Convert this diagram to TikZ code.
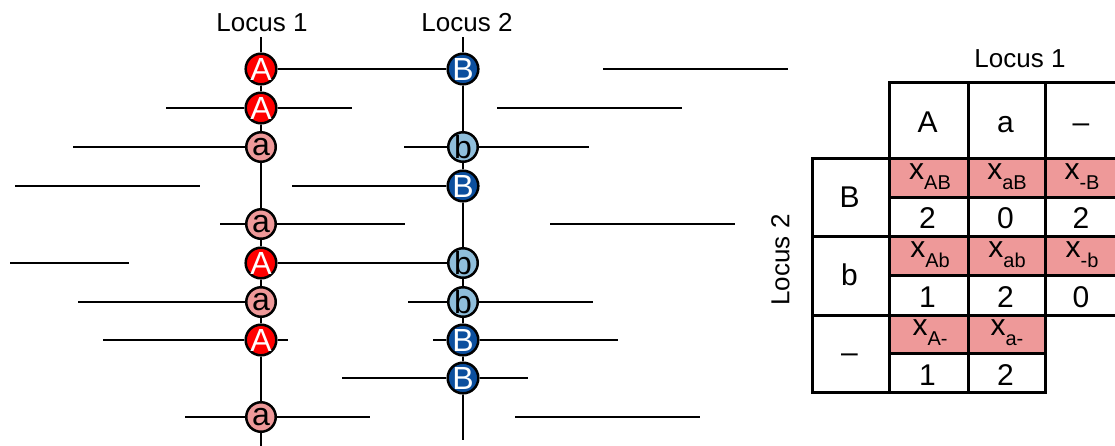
\documentclass[tikz,border=0pt]{standalone}
\usepackage{fontspec}
\setmainfont{Liberation Sans}
\definecolor{alleleA}{HTML}{FF0000}
\definecolor{allelea}{HTML}{EE9999}
\definecolor{alleleB}{HTML}{0C4F9E}
\definecolor{alleleb}{HTML}{8FBEDB}
\definecolor{freqfill}{HTML}{EE9999}
\newcommand\xfreq[1]{x\raisebox{-10pt}{\fontsize{20}{20}\selectfont #1}}
\begin{document}
\begin{tikzpicture}[x=1pt,y=-1pt,
  strand/.style={line width=2.6pt},
  allele/.style={circle,draw,line width=2.5pt,minimum size=29.5pt,inner sep=0pt,
    font=\fontsize{32}{32}\selectfont},
  bigA/.style={allele,fill=alleleA,text=white},
  smalla/.style={allele,fill=allelea,text=black},
  bigB/.style={allele,fill=alleleB,text=white},
  smallb/.style={allele,fill=alleleb,text=black},
  locus/.style={font=\fontsize{26}{26}\selectfont},
  cell/.style={draw,line width=2.6pt,inner sep=0pt,anchor=north west},
  freqcell/.style={cell,fill=freqfill},
  big/.style={font=\fontsize{30}{30}\selectfont,anchor=base,inner sep=0pt},
  freqtxt/.style={font=\fontsize{30}{30}\selectfont,anchor=base,inner sep=0pt}]
\clip (0,0) rectangle (1115,445);

% ---------------- chromosomes ----------------
\node[locus,anchor=base] (L1) at (262,31) {Locus 1};
\node[locus,anchor=base] (L2) at (467,31) {Locus 2};

% alleles at locus 1
\node[bigA]   (p1) at (261,69)  {A};
\node[bigA]   (p2) at (261,108) {A};
\node[smalla] (p3) at (261,147) {a};
\node[smalla] (p4) at (261,224) {a};
\node[bigA]   (p5) at (261,263) {A};
\node[smalla] (p6) at (261,302) {a};
\node[bigA]   (p7) at (261,340) {A};
\node[smalla] (p8) at (261,417) {a};
% alleles at locus 2
\node[bigB]   (q1) at (463,69)  {B};
\node[smallb] (q2) at (463,147) {b};
\node[bigB]   (q3) at (463,186) {B};
\node[smallb] (q4) at (463,263) {b};
\node[smallb] (q5) at (463,302) {b};
\node[bigB]   (q6) at (463,340) {B};
\node[bigB]   (q7) at (463,378) {B};

% locus axes
\coordinate (t1) at (261,37);  \coordinate (b1) at (261,450);
\coordinate (t2) at (463,37);  \coordinate (b2) at (463,440);
\draw[strand] (t1) -- (p1) -- (p2) -- (p3) -- (p4) -- (p5) -- (p6) -- (p7) -- (p8) -- (b1);
\draw[strand] (t2) -- (q1) -- (q2) -- (q3) -- (q4) -- (q5) -- (q6) -- (q7) -- (b2);

% reads crossing the loci
\draw[strand] (p1) -- (q1);
\draw[strand] (p5) -- (q4);
\coordinate (r2l) at (166,108); \coordinate (r2r) at (352,108);
\draw[strand] (r2l) -- (p2) -- (r2r);
\coordinate (r3l) at (73,147);
\draw[strand] (r3l) -- (p3);
\coordinate (s3l) at (404,147); \coordinate (s3r) at (589,147);
\draw[strand] (s3l) -- (q2) -- (s3r);
\coordinate (s4l) at (292,186);
\draw[strand] (s4l) -- (q3);
\coordinate (r5l) at (220,224); \coordinate (r5r) at (405,224);
\draw[strand] (r5l) -- (p4) -- (r5r);
\coordinate (r7l) at (78,302);
\draw[strand] (r7l) -- (p6);
\coordinate (s7l) at (408,302); \coordinate (s7r) at (593,302);
\draw[strand] (s7l) -- (q5) -- (s7r);
\coordinate (r8l) at (103,340); \coordinate (r8r) at (288,340);
\draw[strand] (r8l) -- (p7) -- (r8r);
\coordinate (s8l) at (433,340); \coordinate (s8r) at (618,340);
\draw[strand] (s8l) -- (q6) -- (s8r);
\coordinate (s9l) at (342,378); \coordinate (s9r) at (528,378);
\draw[strand] (s9l) -- (q7) -- (s9r);
\coordinate (r10l) at (185,417); \coordinate (r10r) at (370,417);
\draw[strand] (r10l) -- (p8) -- (r10r);

% reads covering neither locus
\draw[strand] (603,69) -- (788,69);
\draw[strand] (497,108) -- (682,108);
\draw[strand] (15,186) -- (200,186);
\draw[strand] (550,224) -- (735,224);
\draw[strand] (10,263) -- (129,263);
\draw[strand] (515,417) -- (700,417);

% ---------------- haplotype table ----------------
\node[locus,anchor=base] (T1) at (1020,67) {Locus 1};
\node[locus,rotate=90] (T2) at (780.5,260) {Locus 2};

% column headers
\node[cell,minimum width=79pt,minimum height=76pt] (hA) at (888,81) {};
\node[cell,minimum width=77pt,minimum height=76pt] (ha) at (967,81) {};
\node[cell,minimum width=78pt,minimum height=76pt] (hn) at (1044,81) {};
% row headers
\node[cell,minimum width=77pt,minimum height=78pt] (vB) at (811,157) {};
\node[cell,minimum width=77pt,minimum height=79pt] (vb) at (811,235) {};
\node[cell,minimum width=77pt,minimum height=77pt] (vn) at (811,314) {};
% frequency cells
\node[freqcell,minimum width=79pt,minimum height=39pt] (fAB) at (888,157) {};
\node[freqcell,minimum width=77pt,minimum height=39pt] (faB) at (967,157) {};
\node[freqcell,minimum width=78pt,minimum height=39pt] (fnB) at (1044,157) {};
\node[freqcell,minimum width=79pt,minimum height=39pt] (fAb) at (888,235) {};
\node[freqcell,minimum width=77pt,minimum height=39pt] (fab) at (967,235) {};
\node[freqcell,minimum width=78pt,minimum height=39pt] (fnb) at (1044,235) {};
\node[freqcell,minimum width=79pt,minimum height=38pt] (fAn) at (888,314) {};
\node[freqcell,minimum width=77pt,minimum height=38pt] (fan) at (967,314) {};
% count cells
\node[cell,minimum width=79pt,minimum height=39pt] (cAB) at (888,196) {};
\node[cell,minimum width=77pt,minimum height=39pt] (caB) at (967,196) {};
\node[cell,minimum width=78pt,minimum height=39pt] (cnB) at (1044,196) {};
\node[cell,minimum width=79pt,minimum height=40pt] (cAb) at (888,274) {};
\node[cell,minimum width=77pt,minimum height=40pt] (cab) at (967,274) {};
\node[cell,minimum width=78pt,minimum height=40pt] (cnb) at (1044,274) {};
\node[cell,minimum width=79pt,minimum height=39pt] (cAn) at (888,352) {};
\node[cell,minimum width=77pt,minimum height=39pt] (can) at (967,352) {};

% header labels
\node[big] at (927.5,132) {A};
\node[big] at (1005.5,132) {a};
\node[big] at (1081,132) {–};
\node[big] at (849.5,207) {B};
\node[big] at (849.5,285.5) {b};
\node[big] at (849.5,362) {–};

% frequency labels
\node[freqtxt] at (930,179) {\xfreq{AB}};
\node[freqtxt] at (1007,179) {\xfreq{aB}};
\node[freqtxt] at (1082,179) {\xfreq{-B}};
\node[freqtxt] at (930,257) {\xfreq{Ab}};
\node[freqtxt] at (1007,257) {\xfreq{ab}};
\node[freqtxt] at (1082,257) {\xfreq{-b}};
\node[freqtxt] at (930,335) {\xfreq{A-}};
\node[freqtxt] at (1007,335) {\xfreq{a-}};

% counts
\node[big] at (927.5,228) {2};
\node[big] at (1005.5,228) {0};
\node[big] at (1081,228) {2};
\node[big] at (927.5,307) {1};
\node[big] at (1005.5,307) {2};
\node[big] at (1081,307) {0};
\node[big] at (927.5,385) {1};
\node[big] at (1005.5,385) {2};
\end{tikzpicture}
\end{document}
